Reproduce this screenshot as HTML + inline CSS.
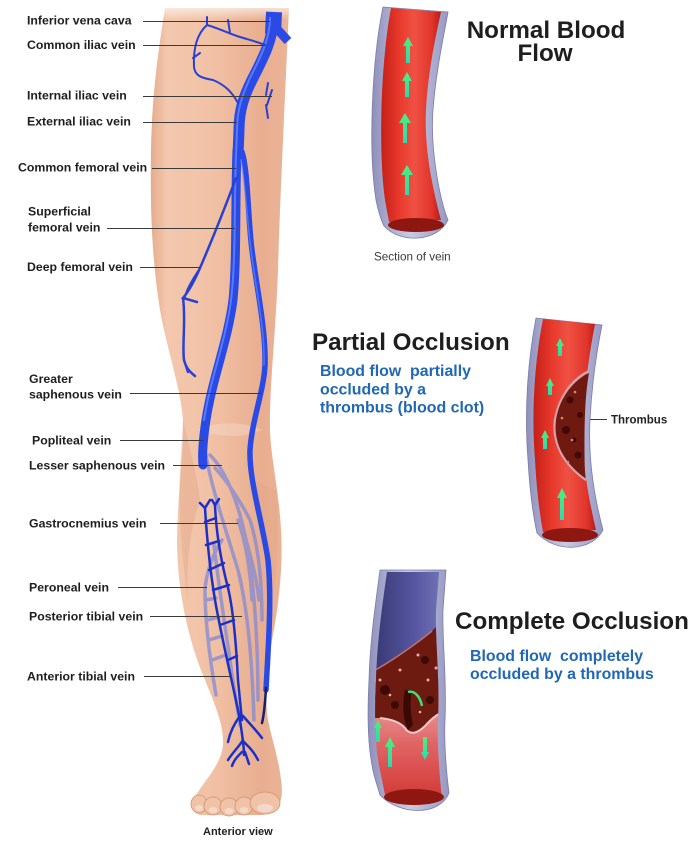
<!DOCTYPE html>
<html><head><meta charset="utf-8"><style>
html,body{margin:0;padding:0;background:#fff;}
svg{display:block;}
text{white-space:pre;}
.lb{font-family:"Liberation Sans",Arial,sans-serif;font-weight:bold;font-size:12.3px;fill:#1e1e1e;}
.ttl{font-family:"Liberation Sans",Arial,sans-serif;font-weight:bold;font-size:24.2px;fill:#1e1e1e;}
.blu{font-family:"Liberation Sans",Arial,sans-serif;font-weight:bold;font-size:15.9px;fill:#2068b5;}
</style></head><body>
<svg width="700" height="842" viewBox="0 0 700 842" xmlns="http://www.w3.org/2000/svg" xml:space="preserve">
<defs>
<linearGradient id="skin" gradientUnits="userSpaceOnUse" x1="150" y1="0" x2="290" y2="0">
<stop offset="0" stop-color="#e5aa8c"/><stop offset="0.12" stop-color="#f3c8ae"/><stop offset="0.45" stop-color="#f1c1a5"/><stop offset="0.8" stop-color="#e9ae90"/><stop offset="1" stop-color="#ebb498"/>
</linearGradient>
<linearGradient id="topfade" x1="0" y1="0" x2="0" y2="1">
<stop offset="0" stop-color="#fff" stop-opacity="1"/><stop offset="1" stop-color="#fff" stop-opacity="0"/>
</linearGradient>
<linearGradient id="red" x1="0" y1="0" x2="1" y2="0">
<stop offset="0" stop-color="#c41f18"/><stop offset="0.3" stop-color="#e8392c"/><stop offset="0.55" stop-color="#ef5143"/><stop offset="0.85" stop-color="#e0352a"/><stop offset="1" stop-color="#b81c16"/>
</linearGradient>
<linearGradient id="wall" x1="0" y1="0" x2="1" y2="0">
<stop offset="0" stop-color="#8e90bb"/><stop offset="0.5" stop-color="#c9cbe4"/><stop offset="1" stop-color="#9698c2"/>
</linearGradient>
<linearGradient id="blueIn" x1="0" y1="0" x2="1" y2="0">
<stop offset="0" stop-color="#2e2e66"/><stop offset="0.6" stop-color="#5656a0"/><stop offset="1" stop-color="#7a7abb"/>
</linearGradient>
<linearGradient id="pink" x1="0" y1="0" x2="0" y2="1">
<stop offset="0" stop-color="#eaa0a0"/><stop offset="0.4" stop-color="#e06464"/><stop offset="1" stop-color="#d0302c"/>
</linearGradient>
<linearGradient id="green" x1="0" y1="0" x2="0" y2="1">
<stop offset="0" stop-color="#4cf07a"/><stop offset="1" stop-color="#30d8b0"/>
</linearGradient>
<clipPath id="c3"><path d="M387 572 C383 600,377 640,376 680 C374 720,375 750,381 775 L386 800 L442 800 C439 770,437 740,438 720 C440 680,435 640,436 610 L439 572 Z"/></clipPath>
</defs>

<!-- LEG -->
<path d="M165 8 C160 40,152 90,151 150 C150 210,152 260,160 310 C167 350,180 385,183 420 C184 450,178 490,177 540 C177 590,188 640,205 680 C215 705,224 725,223 745 C221 765,205 780,196 795 C190 805,192 813,200 815 L262 815 C280 812,284 800,281 780 C279 760,272 740,268 720 C265 700,266 670,272 640 C280 600,283 560,281 530 C279 490,271 460,270 430 C269 390,276 330,278 270 C280 200,284 120,289 8 Z" fill="url(#skin)"/>
<!-- shading -->
<path d="M183 420 C190 450,196 470,200 500 C190 530,186 560,188 600 C182 560,178 510,180 470 Z" fill="#e2a383" opacity="0.4"/>
<path d="M250 480 C262 520,270 560,268 620 C278 580,280 530,276 490 Z" fill="#e0a080" opacity="0.3"/>
<path d="M198 430 C215 422,240 420,262 430 C245 438,220 438,198 430 Z" fill="#f6d6c4" opacity="0.5"/>
<rect x="145" y="0" width="150" height="20" fill="url(#topfade)"/>
<!-- toes -->
<g fill="#f0c2a6" stroke="#cf9274" stroke-width="0.8">
<ellipse cx="199" cy="804" rx="8" ry="9"/>
<ellipse cx="213" cy="806" rx="9" ry="9"/>
<ellipse cx="229" cy="807" rx="9" ry="9"/>
<ellipse cx="244" cy="806" rx="9" ry="9"/>
<ellipse cx="265" cy="803" rx="15" ry="11"/>
</g>
<g fill="#f4d8cc">
<ellipse cx="199" cy="808" rx="4" ry="3"/><ellipse cx="213" cy="810" rx="4.5" ry="3"/><ellipse cx="229" cy="811" rx="4.5" ry="3"/><ellipse cx="244" cy="810" rx="4.5" ry="3"/><ellipse cx="265" cy="808" rx="8" ry="4"/>
</g>

<!-- lavender posterior veins -->
<g fill="none" stroke="#8389d6" stroke-width="3.5" opacity="0.75" stroke-linecap="round">
<path d="M206 455 C212 490,226 530,238 570 C248 610,252 660,254 720"/>
<path d="M210 455 C225 470,238 500,246 540 C254 580,258 640,258 700"/>
<path d="M215 468 C226 480,240 500,250 520 C258 545,262 580,262 620"/>
<path d="M238 520 C245 540,250 565,252 600"/>
<path d="M242 525 C248 548,256 572,259 600"/>
<path d="M222 540 C212 555,206 575,205 590 C205 620,210 660,216 695"/>
<path d="M214 545 C218 580,224 620,230 660 C234 690,238 710,240 725"/>
<path d="M206 600 L216 598 M207 620 L219 617 M209 640 L222 636 M212 660 L226 655"/>
</g>

<!-- main blue veins -->
<g fill="none" stroke-linecap="round">
<path d="M274 12 L273 34" stroke="#2a4ae6" stroke-width="16" stroke-linecap="butt"/>
<path d="M278 30 L288 41" stroke="#2a4ae6" stroke-width="9" stroke-linecap="butt"/>
<path d="M273 20 C273 40,262 60,252 80 C244 96,239 110,239 130 L238 155" stroke="#2a4ae6" stroke-width="11"/>
<path d="M237 150 C235 200,237 260,233 300 C228 340,212 380,206 420 C203 440,202 455,203 465" stroke="#2a4ae6" stroke-width="9"/>
<path d="M242 152 C248 170,248 220,252 250 C257 290,266 330,265 365 C264 390,252 420,250 450 C249 480,262 520,268 560 C272 600,268 650,266 690" stroke="#2a4ae6" stroke-width="5.5"/>
<path d="M266 688 C265 705,264 715,262 723" stroke="#1a1e70" stroke-width="2.5"/>
<!-- highlights -->
<path d="M270 18 C270 40,259 60,249 80 C242 96,237 110,237 130 L236 155 C234 200,236 260,231 300 C226 340,210 380,204 420" stroke="#6f8fff" stroke-width="2" opacity="0.7"/>
<path d="M241 160 C246 190,247 220,251 250 C256 290,265 330,264 365" stroke="#6f8fff" stroke-width="1.5" opacity="0.6"/>
<!-- small vessels top -->
<g stroke="#2a40d0" stroke-width="2">
<path d="M207 17 L207 25 C198 33,193 47,194 67 C195 75,200 78,213 80 C225 85,232 92,238 103"/>
<path d="M207 25 C218 28,230 34,240 37 C250 40,258 42,265 45"/>
<path d="M228 20 L230 33"/>
<path d="M193 58 L200 53"/>
<path d="M268 83 L266 95 M272 90 L267 105 M266 105 L268 118"/>
</g>
<!-- deep femoral -->
<path d="M236 178 C226 205,212 240,200 268 C194 282,188 292,183 298 L197 302 M183 298 C186 320,182 345,184 360 C186 368,190 372,195 376 M184 360 L188 372" stroke="#2a40d0" stroke-width="2.5"/>
<path d="M200 268 C192 280,186 290,185 297" stroke="#2a40d0" stroke-width="1.8"/>
<!-- anterior tibial dark -->
<g stroke="#1c30c8" stroke-width="2.5">
<path d="M205 508 C207 540,210 570,215 600 C222 640,232 680,240 720 C242 735,244 745,244 755"/>
<path d="M215 505 C216 530,220 555,226 580 C232 600,236 640,238 680 C240 700,241 712,242 720"/>
<path d="M205 522 L216 518 M206 545 L219 541 M209 570 L224 563 M213 590 L229 585 M220 625 L234 620 M228 660 L237 656"/>
<path d="M200 503 L205 508 L210 500 M212 500 L215 505 L219 499"/>
<path d="M240 716 C234 724,230 732,228 742 M243 716 C250 724,256 730,262 738"/>
<path d="M243 740 C238 748,233 752,228 760 M244 742 C250 748,254 752,258 760 M242 752 C237 757,234 760,232 766 M245 752 L249 764"/>
</g>
</g>

<!-- LABEL LINES -->
<g stroke="#3a3a3a" stroke-width="1.1">
<line x1="143" y1="21.5" x2="270" y2="21.5"/>
<line x1="143" y1="45.5" x2="265" y2="45.5"/>
<line x1="143" y1="96.5" x2="272" y2="96.5"/>
<line x1="143" y1="122.5" x2="237" y2="122.5"/>
<line x1="152" y1="168.5" x2="236" y2="168.5"/>
<line x1="107" y1="228.5" x2="235" y2="228.5"/>
<line x1="140" y1="267.5" x2="200" y2="267.5"/>
<line x1="130" y1="393.5" x2="262" y2="393.5"/>
<line x1="120" y1="440.5" x2="203" y2="440.5"/>
<line x1="173" y1="465.5" x2="222" y2="465.5"/>
<line x1="160" y1="523.5" x2="238" y2="523.5"/>
<line x1="118" y1="587.5" x2="207" y2="587.5"/>
<line x1="150" y1="616.5" x2="242" y2="616.5"/>
<line x1="144" y1="676.5" x2="232" y2="676.5"/>
<line x1="581" y1="419.5" x2="607" y2="419.5"/>
</g>

<!-- LABELS -->
<g class="lb">
<text x="27" y="24.5">Inferior vena cava</text>
<text x="27" y="49">Common iliac vein</text>
<text x="27" y="99.5">Internal iliac vein</text>
<text x="27" y="125.5">External iliac vein</text>
<text x="18" y="171.5">Common femoral vein</text>
<text x="28" y="215.5">Superficial</text>
<text x="28" y="231.5">femoral vein</text>
<text x="27" y="271">Deep femoral vein</text>
<text x="29" y="383">Greater</text>
<text x="29" y="398.5">saphenous vein</text>
<text x="32" y="444.5">Popliteal vein</text>
<text x="29" y="469.5">Lesser saphenous vein</text>
<text x="29" y="527.5">Gastrocnemius vein</text>
<text x="29" y="591.5">Peroneal vein</text>
<text x="29" y="620.5">Posterior tibial vein</text>
<text x="27" y="680.5">Anterior tibial vein</text>
</g>
<text x="203" y="835" font-family="Liberation Sans, Arial, sans-serif" font-weight="bold" font-size="11" fill="#222">Anterior view</text>

<!-- TUBE 1 normal -->
<path d="M383 7 C372 60,368 150,376 200 C379 215,382 222,384 226 C400 244,438 242,448 220 C440 200,430 150,433 110 C436 70,445 30,448 12 Z" fill="url(#wall)" stroke="#7c7ea8" stroke-width="0.8"/>
<path d="M391 8 C381 60,378 150,385 200 L389 222 L441 220 C433 190,424 150,426 110 C428 70,437 30,441 12 Z" fill="url(#red)"/>
<ellipse cx="416" cy="225" rx="28" ry="7" fill="#8e1711"/>
<g fill="url(#green)">
<polygon points="408,37 413,46 410,46 410,63 406,63 406,46 403,46"/>
<polygon points="407,72 412,81 409,81 409,97 405,97 405,81 402,81"/>
<polygon points="405,113 411,123 407,123 407,143 403,143 403,123 399,123"/>
<polygon points="407,165 413,175 409,175 409,195 405,195 405,175 401,175"/>
</g>
<text x="374" y="260.5" font-family="Liberation Sans, Arial, sans-serif" font-size="11.7" fill="#3a3a3a">Section of vein</text>
<text class="ttl" x="546" y="38" text-anchor="middle">Normal Blood</text>
<text class="ttl" x="545" y="61" text-anchor="middle">Flow</text>

<!-- TUBE 2 partial -->
<path d="M536 318 C528 360,524 410,528 460 C530 495,533 515,537 533 C555 553,592 552,603 530 C595 500,588 460,590 420 C592 380,598 345,602 325 Z" fill="url(#wall)" stroke="#7c7ea8" stroke-width="0.8"/>
<path d="M543 319 C535 360,531 410,535 460 C537 495,540 515,543 532 L596 530 C589 500,581 460,583 420 C585 380,591 345,595 324 Z" fill="url(#red)"/>
<path d="M589 371 C575 378,560 393,555 420 C552 445,565 465,586 480" fill="none" stroke="#d8a0ac" stroke-width="2.5"/>
<path d="M589 373 C575 380,560 395,556 420 C553 445,566 464,585 478 C584 440,584 400,589 373 Z" fill="#6e1a10"/>
<g fill="#420a06"><circle cx="570" cy="400" r="3.5"/><circle cx="566" cy="430" r="4"/><circle cx="578" cy="455" r="3.5"/><circle cx="580" cy="415" r="3"/><circle cx="574" cy="440" r="2.5"/></g>
<g fill="#d08a80"><circle cx="575" cy="392" r="1.3"/><circle cx="562" cy="418" r="1.3"/><circle cx="572" cy="440" r="1.3"/><circle cx="568" cy="462" r="1.2"/></g>
<ellipse cx="570" cy="535" rx="28" ry="7" fill="#8e1711"/>
<g fill="url(#green)">
<polygon points="560,338 564,346 562,346 562,356 558,356 558,346 556,346"/>
<polygon points="550,378 554,386 552,386 552,395 548,395 548,386 546,386"/>
<polygon points="545,430 549,438 547,438 547,449 543,449 543,438 541,438"/>
<polygon points="562,488 567,498 564,498 564,520 560,520 560,498 557,498"/>
</g>
<text x="611" y="423.5" font-family="Liberation Sans, Arial, sans-serif" font-weight="bold" font-size="11.5" fill="#222">Thrombus</text>
<text class="ttl" x="312" y="350">Partial Occlusion</text>
<text class="blu" x="320" y="376">Blood flow  partially</text>
<text class="blu" x="320" y="394.5">occluded by a</text>
<text class="blu" x="320" y="412.5">thrombus (blood clot)</text>

<!-- TUBE 3 complete -->
<path d="M380 570 C376 600,370 640,369 680 C367 720,368 750,374 775 L380 795 C400 816,440 816,449 793 C446 770,444 740,445 720 C447 680,442 640,443 610 L446 570 Z" fill="url(#wall)" stroke="#7c7ea8" stroke-width="0.8"/>
<g clip-path="url(#c3)">
<rect x="360" y="560" width="90" height="150" fill="url(#blueIn)"/>
<rect x="360" y="700" width="90" height="110" fill="url(#pink)"/>
<path d="M360 676 L372 672 C390 662,415 645,432 631 L445 618 L445 712 C440 712,432 718,425 726 C418 733,410 736,405 728 C400 722,390 719,380 718 L360 718 Z" fill="#6d1b10"/>
<path d="M372 672 C390 662,415 645,432 631" fill="none" stroke="#c07070" stroke-width="1.5"/>
<path d="M380 718 C390 719,400 722,405 728 C410 736,418 733,425 726 C432 718,440 712,445 712" fill="none" stroke="#f0c8cc" stroke-width="2"/>
<path d="M405 690 C402 705,403 720,408 730 L413 725 C410 712,410 700,412 690 Z" fill="#3a0805"/>
<g fill="#3e0a06"><circle cx="385" cy="690" r="5"/><circle cx="425" cy="660" r="4"/><circle cx="395" cy="705" r="4"/><circle cx="430" cy="700" r="4"/></g>
<g fill="#e0b0a8"><circle cx="380" cy="680" r="1.5"/><circle cx="400" cy="670" r="1.5"/><circle cx="418" cy="655" r="1.5"/><circle cx="428" cy="680" r="1.5"/><circle cx="436" cy="668" r="1.5"/><circle cx="390" cy="695" r="1.3"/><circle cx="420" cy="712" r="1.3"/></g>
</g>
<ellipse cx="414" cy="797" rx="30" ry="8" fill="#8e1711"/>
<path d="M408 692 C414 690,420 696,422 706" fill="none" stroke="#3ee07a" stroke-width="2.5"/>
<g fill="url(#green)">
<polygon points="378,720 382,728 380,728 380,742 376,742 376,728 374,728"/>
<polygon points="390,737 395,747 392,747 392,767 388,767 388,747 385,747"/>
<polygon points="425,760 429,752 427,752 427,737 423,737 423,752 421,752"/>
</g>
<text class="ttl" x="455" y="629">Complete Occlusion</text>
<text class="blu" x="470" y="661">Blood flow  completely</text>
<text class="blu" x="470" y="679">occluded by a thrombus</text>
</svg>
</body></html>
